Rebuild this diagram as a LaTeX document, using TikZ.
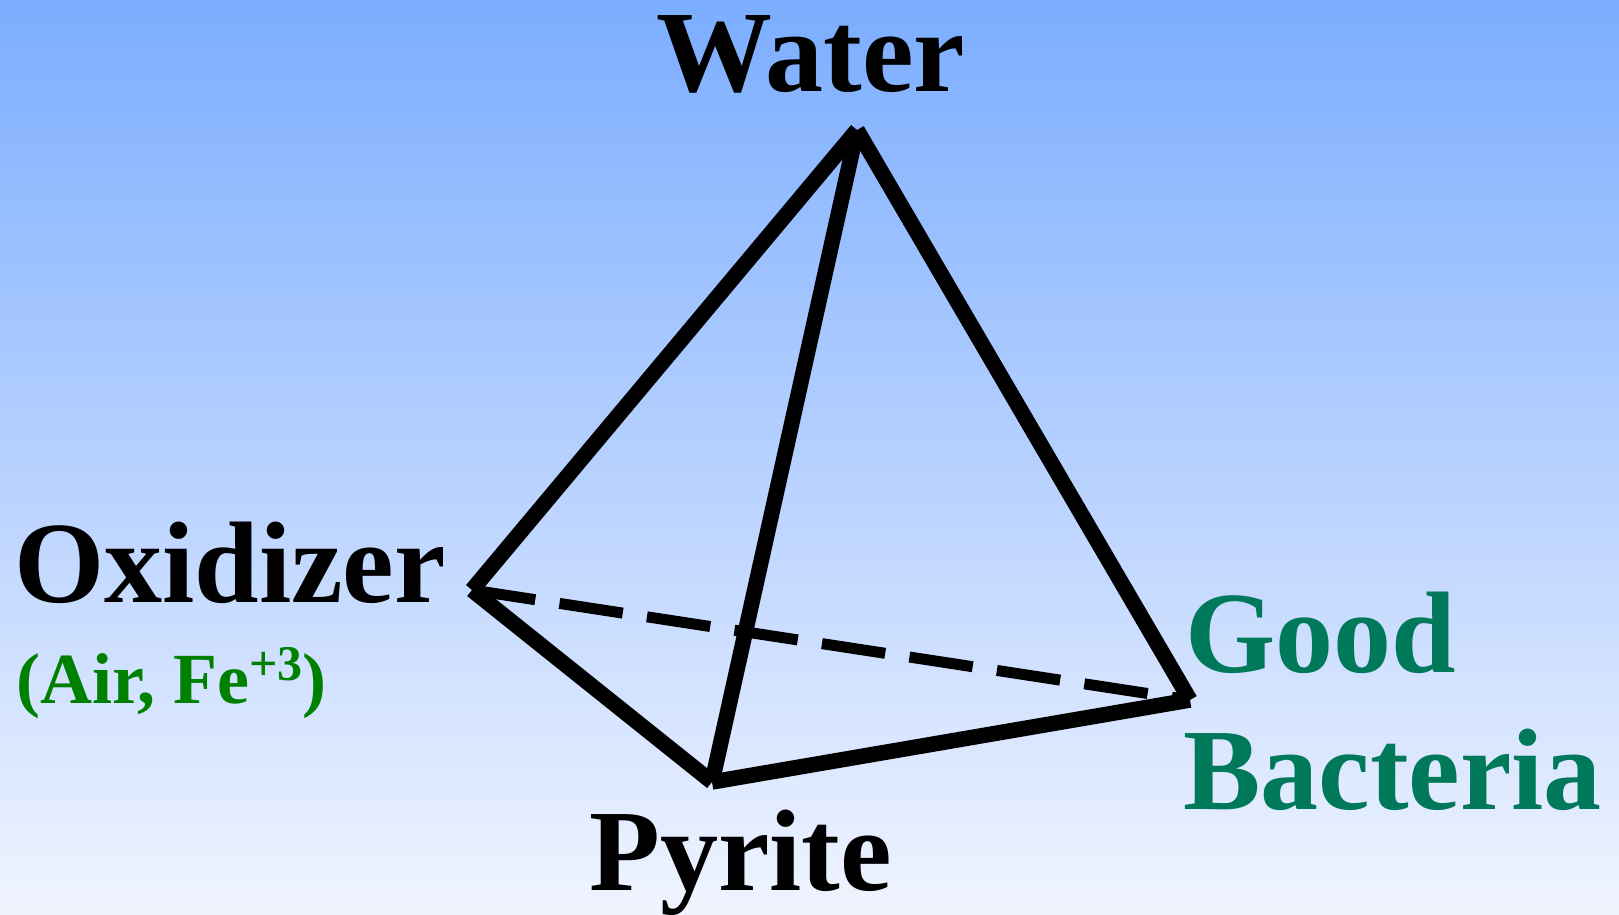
\documentclass[tikz,border=0pt]{standalone}
\usepackage{fontspec}
\setmainfont{Liberation Serif}
\definecolor{topblue}{RGB}{123,173,255}
\definecolor{botblue}{RGB}{240,244,255}
\definecolor{oxgreen}{RGB}{0,128,0}
\definecolor{bacgreen}{RGB}{0,120,90}
\begin{document}
\begin{tikzpicture}[x=1pt,y=-1pt,
  big/.style={anchor=base west,inner sep=0pt,font=\bfseries\fontsize{116}{116}\selectfont},
  small/.style={anchor=base west,inner sep=0pt,font=\bfseries\fontsize{72}{72}\selectfont,text=oxgreen},
  edge/.style={line width=15.5pt,line cap=butt},
  hidden/.style={line width=11pt,line cap=butt,dash pattern=on 64pt off 24.5pt}]
\shade[top color=topblue,bottom color=botblue] (0,0) rectangle (1619,914);
\useasboundingbox (0,0) rectangle (1619,914);
\coordinate (W) at (857,130);
\coordinate (O) at (472,590);
\coordinate (P) at (712,782);
\coordinate (B) at (1190,700);
\node[big] (water) at (656,91) {Water};
\node[big] (oxid) at (14,602) {Oxidizer};
\node[small] (air) at (16,703) {(Air, Fe\raisebox{23pt}{\fontsize{50}{50}\selectfont +3})};
\node[big,text=bacgreen] (good) at (1185,672) {Good};
\node[big,text=bacgreen] (bact) at (1183,809) {Bacteria};
\node[big] (pyrite) at (589,890) {Pyrite};
\draw[hidden] (O) -- (B);
\draw[edge] (W) -- (O);
\draw[edge] (W) -- (P);
\draw[edge] (W) -- (B);
\draw[edge] (O) -- (P);
\draw[edge] (P) -- (B);
\end{tikzpicture}
\end{document}
